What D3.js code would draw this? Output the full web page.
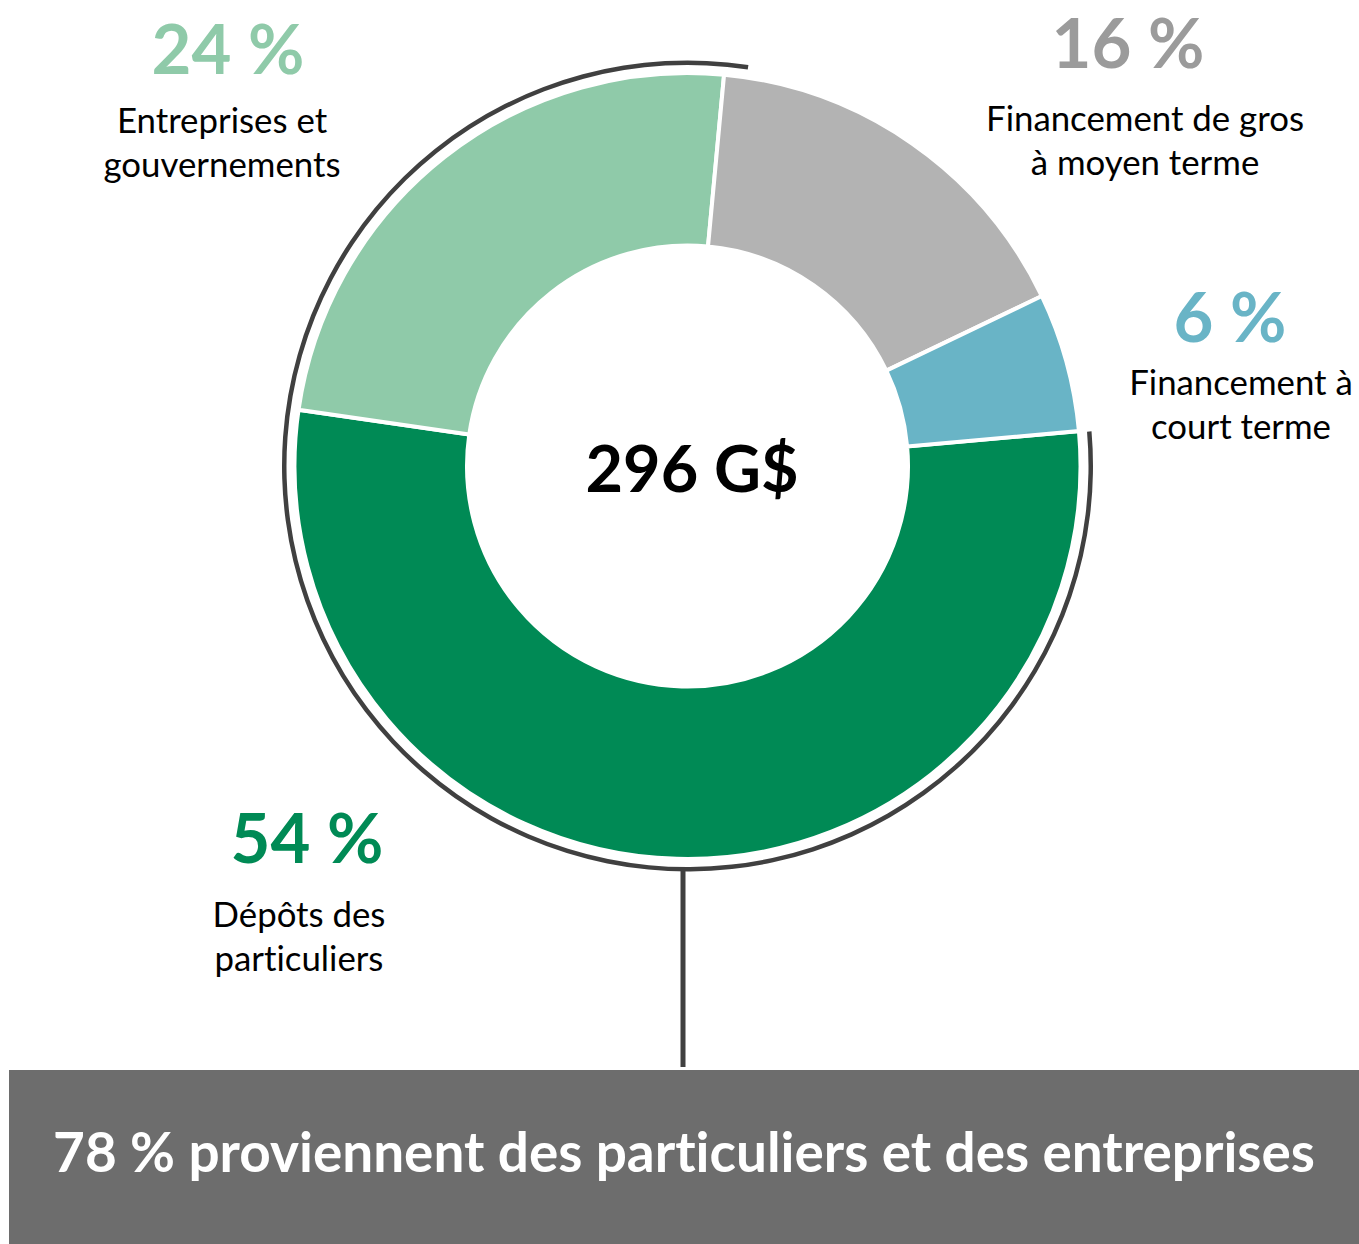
<!DOCTYPE html>
<html>
<head>
<meta charset="utf-8">
<script src="https://cdn.jsdelivr.net/npm/d3@7"></script>
<style>
  html, body { margin: 0; padding: 0; background: #ffffff; }
  svg { display: block; }
  text { font-family: Lato, "Open Sans", sans-serif; font-variant-ligatures: none; font-feature-settings: "liga" 0, "dlig" 0; }
</style>
</head>
<body>
<svg id="chart" width="1359" height="1244"></svg>
<script>
// ---- data ----
const categories = ["Dépôts des particuliers", "Entreprises et gouvernements", "Financement de gros à moyen terme", "Financement à court terme"];
const shares = [53.7, 24.2, 16.4, 5.7];
const pctLabels = ["54 %", "24 %", "16 %", "6 %"];
const nameLines = [["Dépôts des", "particuliers"], ["Entreprises et", "gouvernements"], ["Financement de gros", "à moyen terme"], ["Financement à", "court terme"]];
const totalLabel = "296 G$";
const summaryLabel = "78 % proviennent des particuliers et des entreprises";

// ---- styles ----
const sliceColors = ["#008A55", "#8FCAA9", "#B3B3B3", "#69B4C6"];
const pctColors = ["#008A55", "#8FCAA9", "#9B9B9B", "#69B4C6"];
const deg = Math.PI / 180;

// ---- layout ----
const cx = 687.5, cy = 466;
const rOuter = 393, rInner = 220.5;
const startAngle = 84.9 * deg;
// label anchor positions (center x, percent baseline, first name baseline)
const labelPos = [
  { x: 299, pctX: 307, pctY: 863, nameY: 927 },
  { x: 222, pctX: 228, pctY: 74, nameY: 133 },
  { x: 1145, pctX: 1128, pctY: 68, nameY: 131 },
  { x: 1241, pctX: 1230, pctY: 342, nameY: 395 }
];
const lineGap = 44;

const svg = d3.select("#chart");

const pie = d3.pie().sort(null).value(d => d).startAngle(startAngle).endAngle(startAngle + 2 * Math.PI);
const arcs = pie(shares);
const arcGen = d3.arc().innerRadius(rInner).outerRadius(rOuter);

const g = svg.append("g").attr("transform", `translate(${cx},${cy})`);
g.selectAll("path.slice")
  .data(arcs)
  .join("path")
  .attr("class", "slice")
  .attr("d", arcGen)
  .attr("fill", (d, i) => sliceColors[i])
  .attr("stroke", "#ffffff")
  .attr("stroke-width", 4)
  .attr("stroke-linejoin", "miter");

// bracket arc around the particuliers + entreprises slices
const bracket = d3.arc().innerRadius(401).outerRadius(405.5)
  .startAngle(arcs[0].startAngle + 0.2 * deg)
  .endAngle(arcs[1].endAngle + 3.3 * deg);
g.append("path").attr("d", bracket()).attr("fill", "#404040");

// connector line down to the summary box
svg.append("line")
  .attr("x1", 683).attr("x2", 683)
  .attr("y1", cy + 402).attr("y2", 1067)
  .attr("stroke", "#404040").attr("stroke-width", 5);

// summary box
svg.append("rect")
  .attr("x", 9).attr("y", 1070).attr("width", 1350).attr("height", 174)
  .attr("fill", "#6D6D6D");

function fitSize(text, weight, target) {
  const t = svg.append("text").attr("font-size", 100).attr("font-weight", weight).text(text);
  const w = t.node().getComputedTextLength();
  t.remove();
  return 100 * target / w;
}

const pctSize = fitSize("24 %", 700, 153);
const nameSize = fitSize("Financement de gros", 400, 318);
const totalSize = fitSize(totalLabel, 700, 213);
const summarySize = fitSize(summaryLabel, 700, 1262);

svg.append("text")
  .attr("x", 684).attr("y", 1172)
  .attr("text-anchor", "middle")
  .attr("font-weight", 700)
  .attr("font-size", summarySize)
  .attr("fill", "#ffffff")
  .text(summaryLabel);

svg.append("text")
  .attr("x", 692).attr("y", 492)
  .attr("text-anchor", "middle")
  .attr("font-weight", 700)
  .attr("font-size", totalSize)
  .attr("fill", "#000000")
  .text(totalLabel);

const lbl = svg.selectAll("g.label").data(categories).join("g").attr("class", "label");
lbl.append("text")
  .attr("x", (d, i) => labelPos[i].pctX)
  .attr("y", (d, i) => labelPos[i].pctY)
  .attr("text-anchor", "middle")
  .attr("font-weight", 700)
  .attr("font-size", pctSize)
  .attr("fill", (d, i) => pctColors[i])
  .text((d, i) => pctLabels[i]);

lbl.each(function (d, i) {
  d3.select(this).selectAll("text.name")
    .data(nameLines[i])
    .join("text")
    .attr("class", "name")
    .attr("x", labelPos[i].x)
    .attr("y", (s, j) => labelPos[i].nameY + j * lineGap)
    .attr("text-anchor", "middle")
    .attr("font-size", nameSize)
    .attr("fill", "#000000")
    .text(s => s);
});
</script>
</body>
</html>
